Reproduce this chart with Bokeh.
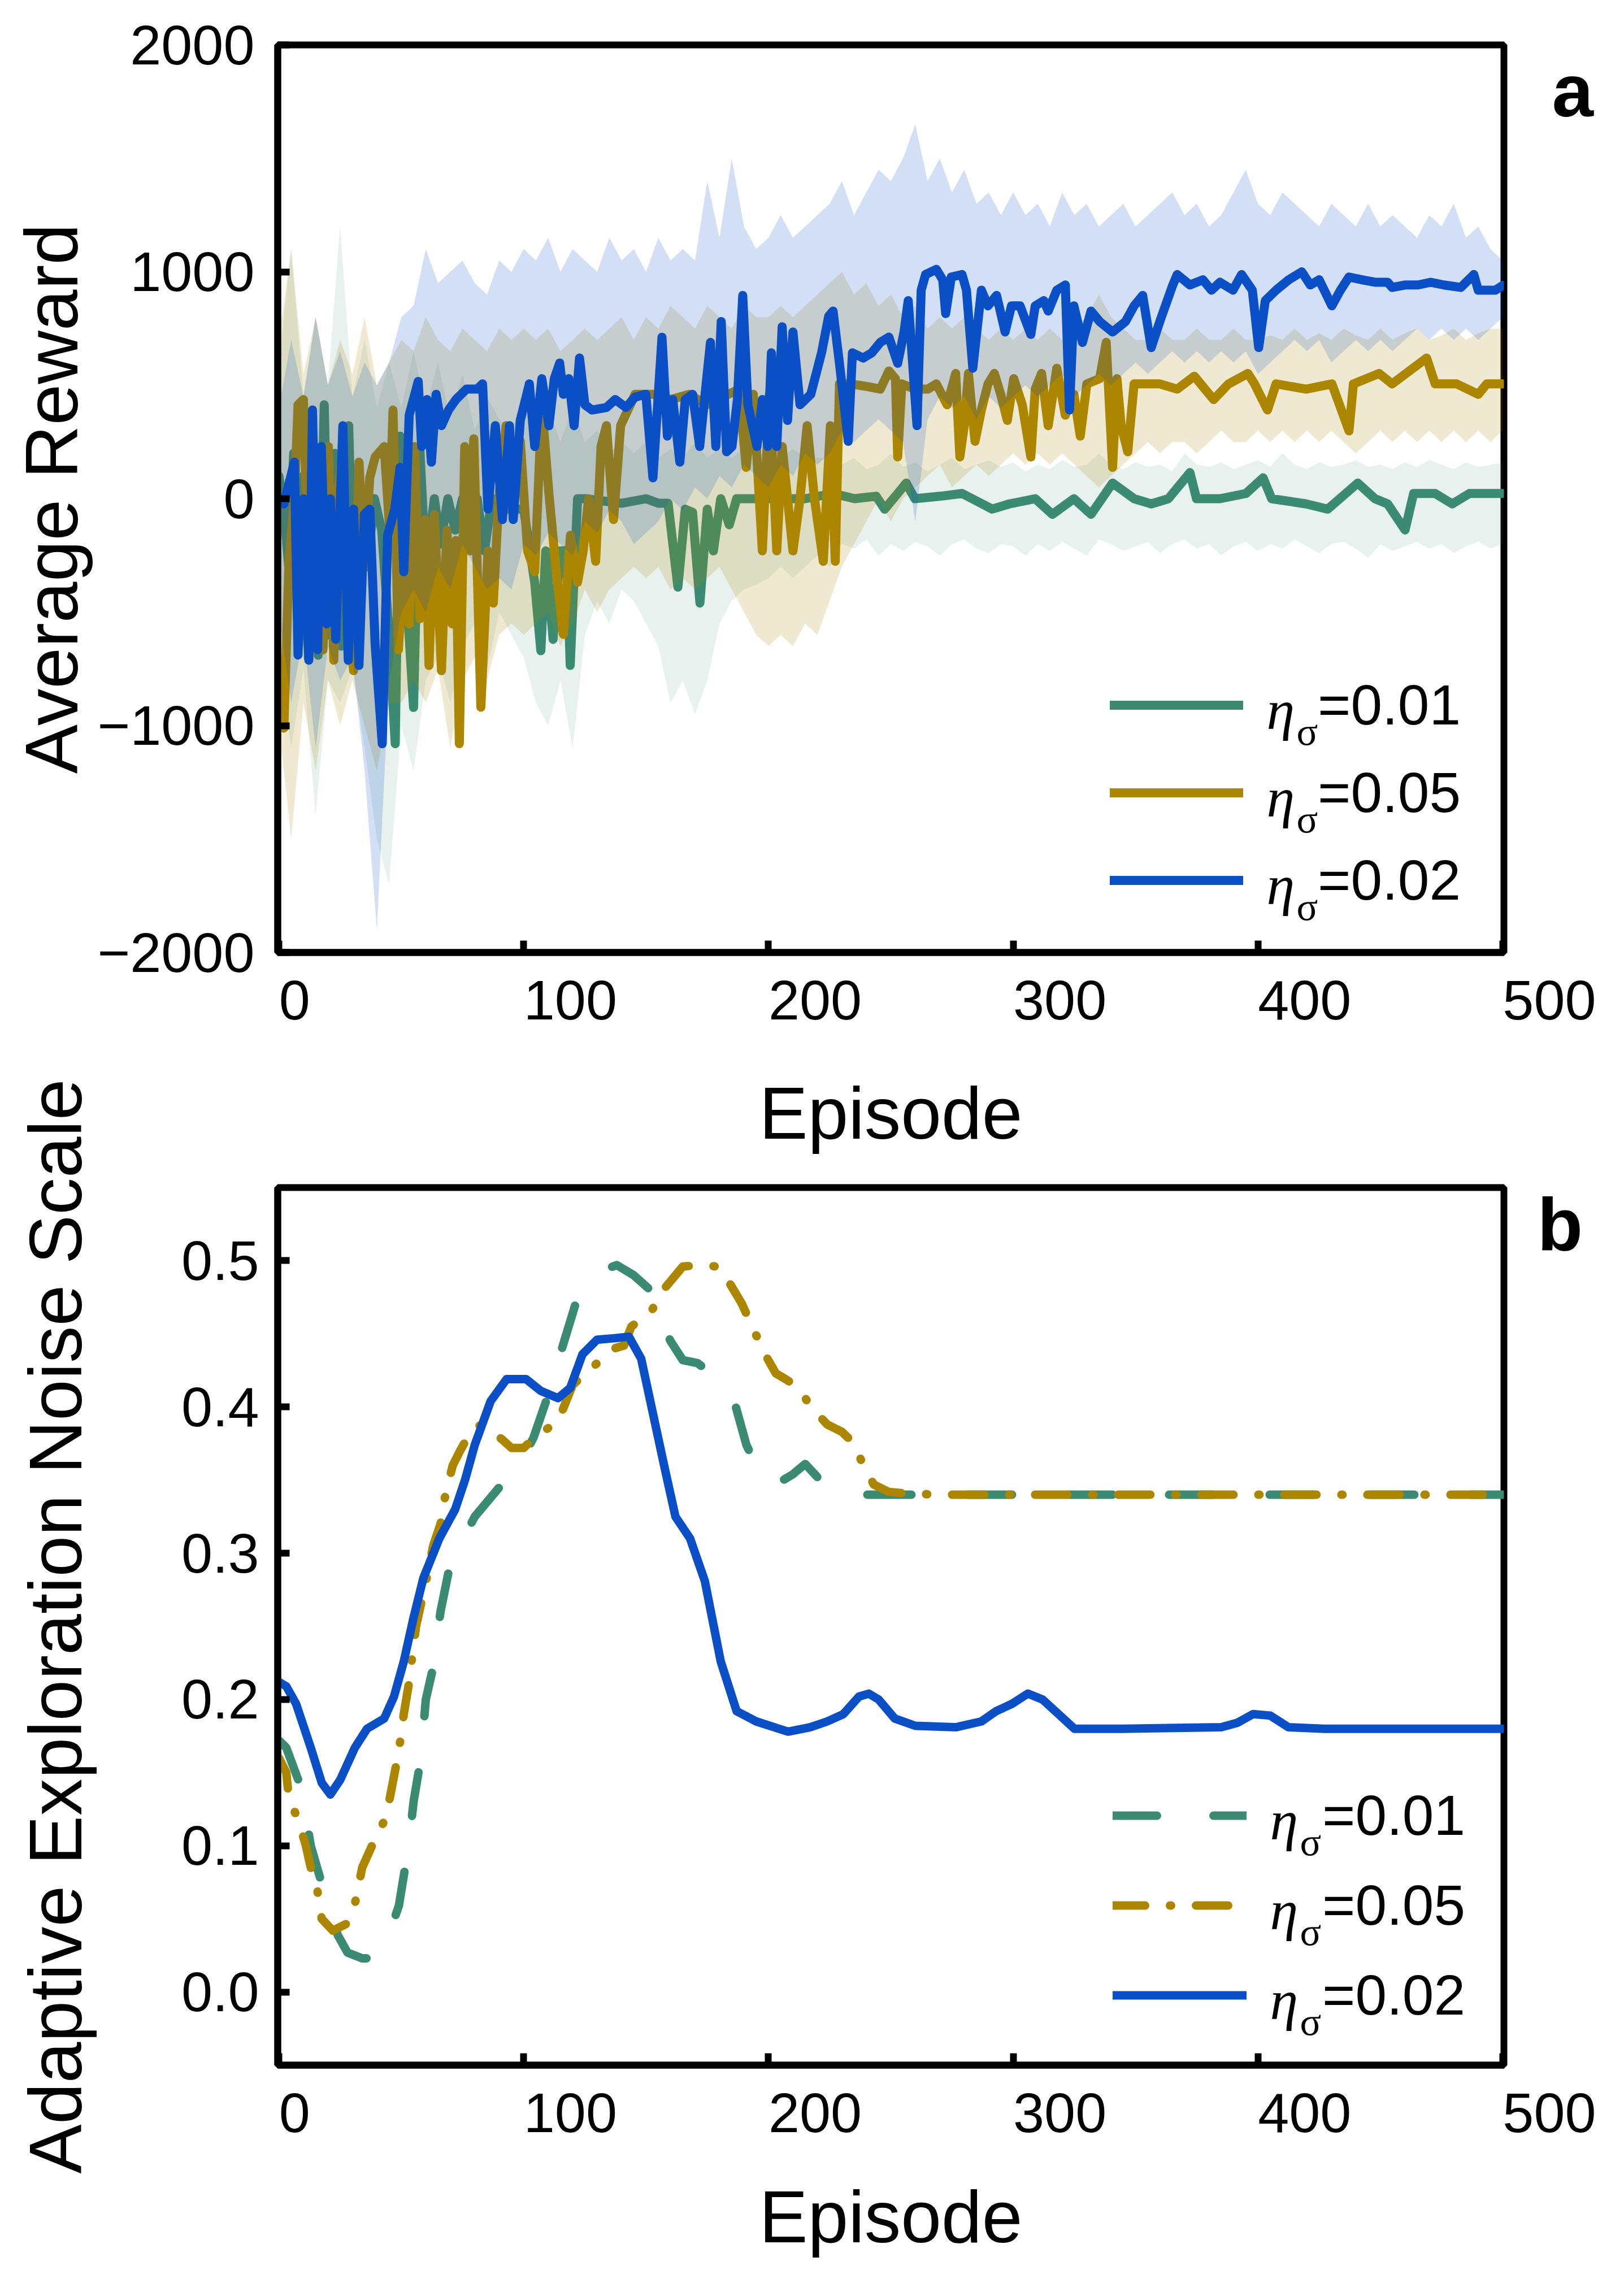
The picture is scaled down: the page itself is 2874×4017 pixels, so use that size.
from bokeh.plotting import figure
from bokeh.layouts import column
from bokeh.models import (FixedTicker, PrintfTickFormatter, Label, Legend, LegendItem, Range1d, Title)
from bokeh.core.properties import value
from bokeh.embed import file_html
from bokeh.resources import INLINE

# === Colours / fonts ===
GREEN = "#3b8b72"
GOLD = "#ad8600"
BLUE = "#0b4fc7"
FONT = "Liberation Sans"
SERIF = "Liberation Serif"

# === Panel a: mean reward per episode (episode, reward) ===
reward_green = [(0, 100), (2, -50), (4, -300), (6, 200), (8, -650), (10, 100), (12, -700), (14, 250),
                (16, -690), (18.5, 414), (20.5, -600), (23, 200), (25.5, -650), (28.5, 322), (31, -690),
                (33, 0), (36, -300), (39, 0), (42, -140), (45, -600), (47.5, -1080), (49.5, 276),
                (52, -400), (55, -920), (57.5, 230), (60, -300), (63.5, 0), (66, -200), (69, 0),
                (72, -138), (75, 0), (78, 0), (81, 0), (84, -230), (87, 0), (92, -46), (100, -46),
                (104.5, -370), (107, -670), (109, -230), (112, -620), (115, -230), (117.5, -230),
                (119, -735), (122, 0), (125, 0), (140, -20), (150, 0), (155, -20), (159, -20),
                (163, -390), (166, -46), (169, -60), (172, -460), (175, -46), (177.5, -230), (180.5, 0),
                (184, -115), (187, 0), (200, 0), (215, 0), (226.4, 23), (235.2, 0), (244, 11),
                (247.5, -46), (252.8, 23), (256.3, 69), (259.8, 0), (270.3, 11), (279.1, 23),
                (291.4, -46), (298.4, -23), (309, 0), (316, -69), (324.8, 0), (331.8, -69), (340.6, 69),
                (349.4, 0), (356.4, -23), (363.4, 0), (372.2, 115), (374.9, 0), (384.5, 0), (395.1, 23),
                (402.1, 92), (405.6, 0), (419.7, -23), (428.5, -46), (440.8, 69), (447.8, 0),
                (453, -23), (460.1, -138), (463.6, 23), (472.4, 23), (479.4, -23), (486.4, 23),
                (500, 23)]

reward_gold = [(0, -1000), (2, -1011), (4.1, -276), (6.3, 0), (7.8, 414), (10, 437), (11.5, -138),
               (13.7, -666), (15.8, 184), (18, -666), (20.2, 230), (22.4, -712), (23.9, 0), (26.1, 207),
               (28.3, -529), (30.5, -758), (32.7, 161), (34.9, -299), (37.1, 92), (39.3, 184), (43, 230),
               (45.1, -115), (46.6, 391), (48.8, -666), (51, -276), (53.2, -552), (55.4, 230),
               (57.6, -529), (59.8, -92), (61.3, -735), (63.5, -69), (66.4, -758), (68.6, -138),
               (70.8, -552), (72.3, -184), (73.7, -1080), (75.9, 230), (78.1, -230), (79.6, 264),
               (82.5, -919), (85.4, -230), (87.6, -460), (89.8, 0), (92.8, 322), (95.7, 138),
               (98.6, 253), (101.6, -230), (104.5, -322), (107.4, 414), (110.3, 23), (113.3, -322),
               (116.2, -598), (119.1, -161), (122, -368), (124.3, -230), (126.5, 0), (129.4, -276),
               (131.6, 230), (133.8, 322), (136.7, -92), (139.6, 322), (145.5, 460), (152.8, 460),
               (160.2, 437), (167.5, 460), (174.8, 414), (179.2, 437), (183.6, 460), (188, 483),
               (190.9, 138), (193.8, 460), (197.5, -230), (200.4, 460), (203.4, -230), (205.6, 230),
               (210, -230), (212.9, 0), (215.8, 322), (218.8, 0), (222.4, -276), (225.3, 322),
               (227.3, -276), (229, 506), (233.4, 506), (240.5, 494), (245.7, 483), (249.2, 563),
               (251.9, 529), (252.8, 184), (254.5, 506), (259.8, 483), (265.1, 483), (268.6, 506),
               (273, 414), (276.5, 552), (278.2, 184), (280, 322), (281.7, 552), (284.4, 253),
               (287, 391), (289.7, 506), (292.3, 552), (294.9, 460), (297.6, 345), (300.2, 529),
               (303.7, 414), (307.2, 184), (309, 483), (311.6, 552), (314.3, 322), (317.8, 575),
               (321.3, 368), (324.8, 460), (327.4, 276), (330.1, 506), (335.3, 529), (338, 689),
               (340.6, 138), (342.4, 529), (344.1, 322), (346.8, 207), (349.4, 506), (354.7, 506),
               (359.9, 506), (367, 483), (374, 540), (377.5, 494), (381.9, 437), (388, 506),
               (395.9, 552), (398.6, 506), (403.9, 391), (407.4, 506), (419.7, 483), (430.2, 506),
               (437.2, 299), (439, 506), (449.5, 552), (454.8, 506), (468.9, 620), (472.4, 506),
               (481.2, 506), (490, 460), (493.5, 506), (500, 506)]

reward_blue = [(0, 0), (2, -23), (6.3, 161), (7.8, -689), (10, 0), (12.2, -712), (13.7, 391),
               (15.8, -666), (17.3, 230), (19.5, -552), (21, 0), (23.2, -620), (26.1, 322),
               (28.3, -712), (30.5, -46), (32.7, -735), (34.9, -69), (37.1, -46), (39.3, -643),
               (42.2, -1080), (44.4, -161), (47.3, -46), (49.5, 138), (51, -322), (53.2, 368),
               (56.9, 517), (58.3, 230), (60.5, 437), (62.3, 161), (64.2, 460), (66.4, 322),
               (69.3, 391), (72.3, 437), (76.6, 483), (81, 483), (83.2, 506), (85.4, -46), (88.4, 322),
               (91.3, -92), (94.2, 322), (95.7, -92), (98.6, 345), (102.3, 506), (104.5, 230),
               (107.4, 529), (110.3, 322), (112.5, 529), (114.7, 598), (116.2, 460), (118.4, 529),
               (120.6, 322), (122.8, 620), (125, 414), (127.9, 391), (133.8, 402), (137.4, 437),
               (141.8, 402), (145.5, 448), (149.9, 460), (152.8, 92), (156.5, 712), (158.7, 276),
               (160.9, 437), (163.8, 161), (166, 437), (169, 460), (171.9, 230), (174.1, 460),
               (176.3, 689), (178.5, 230), (180.7, 781), (182.9, 207), (185.1, 230), (187.3, 437),
               (189.5, 896), (191.6, 414), (195.3, 230), (197.5, 437), (199.7, 230), (201.2, 643),
               (203.4, 230), (205.6, 758), (207.8, 345), (210, 735), (212.9, 414), (217.3, 460),
               (221.7, 643), (224.6, 804), (226.4, 827), (229, 597), (232.6, 253), (234.3, 643),
               (238.7, 620), (242.2, 643), (245.7, 689), (249.2, 712), (252.8, 597), (255.4, 735),
               (257.1, 873), (260.7, 322), (262.4, 919), (264.2, 988), (268.6, 1011), (271.2, 965),
               (272.4, 816), (274.7, 977), (279.1, 988), (280.9, 919), (283.5, 575), (287, 919),
               (289.7, 850), (293.2, 896), (296.7, 735), (299.3, 850), (302.8, 850), (307.2, 724),
               (309, 850), (312.5, 873), (314.3, 827), (317.8, 919), (321.3, 942), (323, 391),
               (324.8, 850), (328.3, 689), (331.8, 827), (335.3, 781), (340.6, 735), (345.9, 781),
               (349.4, 850), (352.9, 896), (356.4, 666), (359.9, 781), (365.2, 942), (367, 988),
               (372.2, 942), (377.5, 965), (381, 919), (384.5, 954), (389.8, 919), (393.3, 988),
               (397.7, 919), (400.3, 666), (403, 873), (407.4, 919), (412.6, 965), (417.9, 1000),
               (421.4, 942), (425, 965), (430.2, 850), (433.7, 919), (437.2, 977), (442.5, 965),
               (447.8, 954), (453, 954), (454.8, 931), (460.1, 942), (465.4, 942), (470.6, 954),
               (475.9, 942), (482.9, 931), (488.2, 988), (490, 919), (497, 919), (500, 940)]

# shaded spread, sampled every 5 episodes
band_ep = list(range(0, 505, 5))
blue_up = [400, 700, 450, 800, 500, 650, 450, 600, 500, 600,
           800, 850, 1100, 950, 1000, 1050, 950, 900, 1050, 1000,
           1100, 1050, 1150, 1000, 1100, 1050, 1000, 1150, 1050, 1100,
           1000, 1150, 1050, 1100, 1050, 1400, 1150, 1500, 1200, 1100,
           1150, 1250, 1150, 1200, 1250, 1300, 1400, 1250, 1350, 1450,
           1400, 1500, 1650, 1400, 1500, 1350, 1450, 1300, 1350, 1250,
           1350, 1250, 1300, 1200, 1350, 1250, 1300, 1200, 1250, 1300,
           1200, 1250, 1300, 1350, 1250, 1300, 1200, 1250, 1350, 1450,
           1300, 1250, 1350, 1300, 1250, 1200, 1300, 1250, 1200, 1300,
           1200, 1250, 1200, 1150, 1250, 1200, 1300, 1150, 1200, 1100,
           1050]
blue_lo = [-500, -900, -600, -1100, -650, -800, -700, -1200, -1900, -800,
           -500, -400, -500, -300, -400, -200, -300, -400, -350, -400,
           -200, -250, -150, -200, -250, -100, -150, -50, -100, -200,
           -150, -100, 0, -50, 50, 0, 100, 50, 150, 100,
           50, 150, 100, 200, 150, 200, 300, 250, 300, 350,
           300, 250, -100, 350, 450, 400, 450, 350, 450, 400,
           450, 500, 450, 500, 550, 450, 500, 550, 500, 550,
           600, 550, 600, 650, 600, 650, 600, 650, 600, 650,
           550, 600, 650, 700, 650, 700, 600, 650, 700, 650,
           700, 650, 700, 750, 700, 750, 700, 750, 700, 750,
           800]
green_up = [600, 1100, 450, 800, 500, 1200, 450, 700, 400, 600,
            400, 650, 400, 600, 350, 550, 300, 450, 350, 300,
            450, 300, 400, 250, 400, 250, 300, 200, 250, 200,
            250, 180, 220, 180, 250, 180, 220, 180, 220, 180,
            220, 180, 220, 180, 180, 180, 150, 180, 130, 150,
            200, 140, 160, 120, 150, 180, 130, 150, 170, 140,
            160, 120, 150, 130, 170, 140, 150, 200, 150, 130,
            160, 140, 150, 120, 200, 150, 140, 160, 130, 150,
            170, 140, 200, 150, 130, 160, 140, 150, 170, 140,
            150, 130, 160, 140, 170, 150, 130, 160, 140, 150,
            160]
green_lo = [-700, -1100, -750, -1400, -800, -900, -750, -1100, -1500, -1700,
            -1000, -1200, -800, -700, -900, -650, -550, -750, -500, -600,
            -700, -900, -1000, -800, -1100, -600, -450, -550, -400, -450,
            -550, -650, -900, -800, -950, -800, -550, -450, -400, -380,
            -350, -300, -350, -300, -250, -300, -200, -220, -180, -250,
            -200, -230, -190, -210, -250, -200, -180, -220, -240, -200,
            -210, -250, -200, -230, -190, -220, -250, -180, -200, -230,
            -210, -190, -240, -200, -180, -220, -200, -250, -210, -190,
            -230, -200, -220, -180, -210, -240, -200, -190, -220, -260,
            -200, -230, -210, -190, -220, -200, -240, -210, -190, -220,
            -200]
gold_up = [700, 1100, 550, 800, 500, 700, 550, 800, 500, 600,
           700, 650, 800, 700, 650, 750, 700, 650, 750, 700,
           750, 700, 750, 650, 700, 750, 700, 750, 800, 700,
           800, 750, 850, 800, 750, 850, 800, 750, 850, 800,
           800, 850, 800, 850, 900, 950, 1000, 900, 950, 850,
           900, 800, 850, 750, 800, 750, 800, 750, 700, 750,
           700, 750, 700, 750, 700, 750, 800, 900, 800, 750,
           700, 700, 750, 700, 700, 750, 700, 700, 750, 700,
           700, 720, 700, 750, 700, 730, 700, 750, 720, 700,
           750, 700, 730, 750, 700, 720, 750, 700, 730, 750,
           750]
gold_lo = [-1000, -1500, -900, -1200, -800, -1000, -800, -1000, -1200, -900,
           -900, -800, -900, -750, -1100, -800, -700, -800, -600, -550,
           -600, -550, -500, -650, -550, -400, -500, -400, -350, -300,
           -350, -300, -400, -350, -400, -350, -300, -400, -500, -600,
           -650, -600, -650, -550, -600, -450, -300, -200, -100, 0,
           -100, 0, 50, 100, 150, 50, 100, 150, 100, 150,
           200, 150, 200, 150, 200, 150, 100, 50, 100, 150,
           200, 250, 200, 250, 250, 200, 250, 300, 250, 250,
           300, 250, 300, 250, 300, 250, 300, 250, 200, 250,
           300, 250, 300, 250, 300, 250, 300, 250, 300, 250,
           300]

# === Panel b: adaptive noise scale (episode, sigma) ===
noise_green = [(0, 0.172), (3, 0.167), (9, 0.14), (13, 0.1), (17.5, 0.074), (24, 0.039), (28, 0.027),
               (34, 0.023), (38, 0.023), (43, 0.03), (49, 0.059), (53, 0.1), (55, 0.13), (58, 0.16),
               (60, 0.2), (63, 0.222), (66, 0.26), (70, 0.293), (80, 0.325), (90, 0.345), (95, 0.35),
               (100, 0.366), (104, 0.379), (111, 0.413), (116, 0.442), (122, 0.475), (130, 0.492),
               (138, 0.497), (145, 0.49), (153, 0.478), (156, 0.46), (160, 0.445), (165, 0.432),
               (171, 0.43), (178, 0.421), (185, 0.41), (191, 0.374), (198, 0.349), (204, 0.348),
               (210, 0.354), (215, 0.361), (220, 0.352), (225, 0.343), (231, 0.34), (500, 0.34)]
noise_gold = [(0, 0.16), (3, 0.15), (4, 0.133), (8, 0.117), (11, 0.1), (13, 0.085), (15, 0.077),
              (17.5, 0.05), (22, 0.042), (28, 0.047), (31, 0.06), (34, 0.085), (38, 0.1), (43, 0.117),
              (45, 0.13), (49, 0.165), (51, 0.19), (53, 0.21), (56, 0.25), (60, 0.28), (63, 0.305),
              (66, 0.32), (68, 0.34), (71, 0.36), (74, 0.37), (79, 0.385), (83, 0.388), (86, 0.385),
              (91, 0.378), (95, 0.372), (100, 0.372), (105, 0.38), (114, 0.39), (120, 0.415),
              (130, 0.43), (137, 0.44), (141, 0.442), (144, 0.455), (152, 0.465), (157, 0.48),
              (165, 0.496), (172, 0.497), (179, 0.496), (184, 0.485), (189, 0.471), (195, 0.449),
              (198.6, 0.436), (203, 0.423), (208, 0.418), (212.5, 0.412), (218, 0.399), (224, 0.388),
              (230, 0.383), (235, 0.375), (238.5, 0.361), (243, 0.347), (249, 0.342), (255, 0.341),
              (270, 0.34), (500, 0.34)]
noise_blue = [(0, 0.212), (3, 0.209), (7, 0.197), (13, 0.167), (17.5, 0.143), (21, 0.135), (25, 0.145),
              (31, 0.167), (36, 0.18), (43, 0.187), (47, 0.202), (51, 0.226), (55, 0.256), (59, 0.283),
              (65.5, 0.31), (72, 0.33), (76, 0.35), (80, 0.374), (86.5, 0.404), (93, 0.419),
              (101, 0.419), (107, 0.411), (114, 0.406), (119, 0.413), (124, 0.436), (130, 0.446),
              (137, 0.447), (143, 0.448), (148, 0.433), (153, 0.394), (157.5, 0.359), (162, 0.325),
              (168, 0.31), (174, 0.281), (180.5, 0.226), (187, 0.192), (195, 0.185), (208, 0.178),
              (217, 0.181), (224, 0.185), (230.6, 0.19), (237, 0.202), (241, 0.204), (245, 0.2),
              (251.6, 0.187), (260, 0.182), (276.5, 0.181), (287, 0.185), (293, 0.192),
              (299.5, 0.197), (306, 0.204), (312, 0.2), (318.5, 0.19), (325, 0.18), (344, 0.18),
              (385, 0.181), (391.5, 0.184), (398, 0.19), (405, 0.189), (412.5, 0.181), (427, 0.18),
              (500, 0.18)]

legend_labels = ["=0.01", "=0.05", "=0.02"]
x_ticks = [0, 100, 200, 300, 400, 500]
reward_ticks = [-2000, -1000, 0, 1000, 2000]
noise_ticks = [0.0, 0.1, 0.2, 0.3, 0.4, 0.5]

FIG_SP = "\u2007"   # digit-wide space: pads the label so its digits start at the tick


def xy(pairs):
    return [p[0] for p in pairs], [p[1] for p in pairs]


def style(p, ylab_standoff, ytick_standoff):
    p.xgrid.visible = False
    p.ygrid.visible = False
    p.outline_line_color = "black"
    p.outline_line_width = 12
    p.outline_line_alpha = 1
    p.background_fill_color = "white"
    p.border_fill_color = "white"
    for ax in (p.xaxis[0], p.yaxis[0]):
        ax.axis_line_width = 12
        ax.major_tick_in = 21
        ax.major_tick_out = 0
        ax.major_tick_line_width = 12
        ax.minor_tick_line_color = None
        ax.axis_label_text_font = FONT
        ax.axis_label_text_font_style = "normal"
        ax.axis_label_text_color = "black"
        ax.major_label_text_font = FONT
        ax.major_label_text_font_size = "99px"
        ax.major_label_text_color = "black"
    p.xaxis.axis_label_text_font_size = "129px"
    p.yaxis.axis_label_text_font_size = "131px"
    p.xaxis.ticker = FixedTicker(ticks=x_ticks)
    p.xaxis.major_label_overrides = {t: FIG_SP * len(str(t)) + str(t) for t in x_ticks}
    p.xaxis.major_label_standoff = 28
    p.yaxis.major_label_standoff = ytick_standoff
    p.yaxis.axis_label_standoff = ylab_standoff


def add_legend(p, renderers, lx, ly, gw, gh, standoff):
    items = [LegendItem(label=value(t), renderers=[r]) for t, r in zip(legend_labels, renderers)]
    leg = Legend(items=items, location=(lx, ly), glyph_width=gw, glyph_height=gh, label_height=gh,
                 label_standoff=standoff, spacing=0, padding=0, margin=0,
                 border_line_color=None, background_fill_alpha=0,
                 label_text_font=FONT, label_text_font_size="100px", label_text_color="black")
    p.add_layout(leg)
    gx = lx + gw
    for i in range(3):
        cy = ly + gh / 2 + gh * (2 - i)
        p.add_layout(Label(x=gx + 41, y=cy - 8, x_units="screen", y_units="screen", text="η",
                           text_font=SERIF, text_font_style="italic", text_font_size="100px",
                           text_baseline="alphabetic", text_color="black"))
        p.add_layout(Label(x=gx + 94, y=cy - 46, x_units="screen", y_units="screen", text="σ",
                           text_font=SERIF, text_font_size="70px",
                           text_baseline="alphabetic", text_color="black"))


def panel_letter(p, text, x, y):
    p.add_layout(Label(x=x, y=y, x_units="screen", y_units="screen", text=text,
                       text_font=FONT, text_font_style="bold", text_font_size="132px",
                       text_baseline="alphabetic", text_color="black"), "right")


# ---------- Panel a ----------
p1 = figure(width=2858, height=1835, x_range=Range1d(-0.5, 500.5), y_range=Range1d(-2000, 2000),
            output_backend="svg", toolbar_location=None,
            min_border_left=491, min_border_right=194, min_border_top=79, min_border_bottom=150,
            y_axis_label="Average Reward")
style(p1, ylab_standoff=4, ytick_standoff=41)
p1.yaxis.ticker = FixedTicker(ticks=reward_ticks)
p1.yaxis.major_label_overrides = {-2000: "\u22122000", -1000: "\u22121000", 0: "0",
                                  1000: "1000", 2000: "2000"}

bands = [(green_up, green_lo, GREEN, 0.12, reward_green),
         (gold_up, gold_lo, GOLD, 0.18, reward_gold),
         (blue_up, blue_lo, BLUE, 0.18, reward_blue)]
rends1 = []
for up, lo, col, alpha, mean in bands:
    p1.varea(x=band_ep, y1=lo, y2=up, fill_color=col, fill_alpha=alpha)
    mx, my = xy(mean)
    rends1.append(p1.line(mx, my, line_color=col, line_width=16, line_join="round", line_cap="round"))

add_legend(p1, rends1, 1473, 50, 236, 155, 132)
panel_letter(p1, "a", 85, 1525)

# ---------- Panel b ----------
p2 = figure(width=2858, height=2162, x_range=Range1d(-0.5, 500.5), y_range=Range1d(-0.05, 0.55),
            output_backend="svg", toolbar_location=None,
            min_border_left=478, min_border_right=197, min_border_top=253, min_border_bottom=342,
            x_axis_label="Episode", y_axis_label="Adaptive Exploration Noise Scale")
style(p2, ylab_standoff=146, ytick_standoff=33)
p2.xaxis.axis_label_standoff = 54
p2.yaxis.ticker = FixedTicker(ticks=noise_ticks)
p2.yaxis.formatter = PrintfTickFormatter(format="%.1f")
# x-axis title of panel a sits in the gap above panel b
p2.add_layout(Title(text="Episode", align="center", standoff=120, text_font=FONT,
                    text_font_size="129px", text_font_style="normal", text_color="black"), "above")

rends2 = []
for pairs, col, dash in [(noise_green, GREEN, "78 100"), (noise_gold, GOLD, "57 44 2 44"),
                         (noise_blue, BLUE, "solid")]:
    nx, ny = xy(pairs)
    rends2.append(p2.line(nx, ny, line_color=col, line_width=15, line_dash=dash,
                          line_join="round", line_cap="round"))

add_legend(p2, rends2, 1478, 44, 237, 159, 134)
panel_letter(p2, "b", 59, 1487)

layout = column(p1, p2)
open("out.html", "w").write(file_html(layout, INLINE, "Reward and noise scale"))
